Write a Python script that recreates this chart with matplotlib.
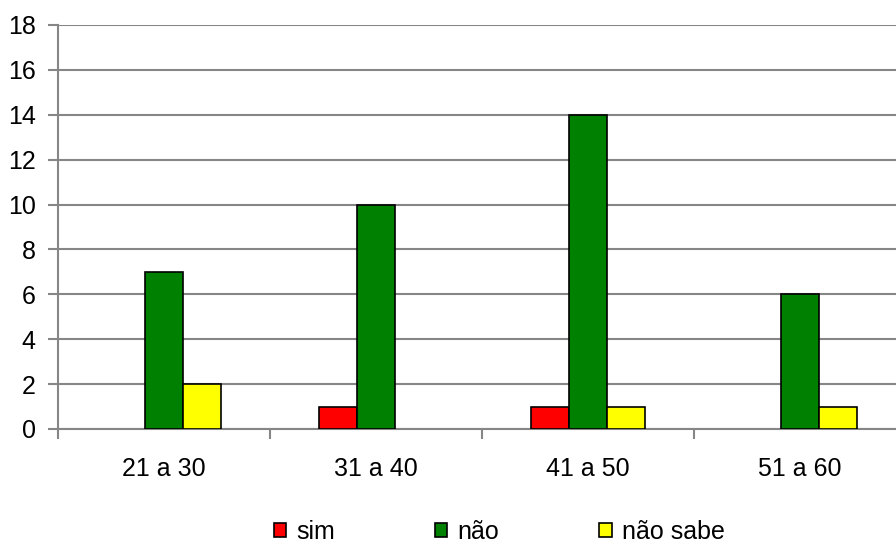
import matplotlib
matplotlib.use("Agg")
import matplotlib.pyplot as plt
import numpy as np

# data
categories = ["21 a 30", "31 a 40", "41 a 50", "51 a 60"]
sim = [0, 1, 1, 0]
nao = [7, 10, 14, 6]
nao_sabe = [2, 0, 1, 1]
series_names = ["sim", "não", "não sabe"]
series_colors = ["#ff0000", "#008000", "#ffff00"]

plt.rcParams["font.family"] = ["Liberation Sans", "DejaVu Sans"]

fig = plt.figure(figsize=(8.96, 5.43), dpi=100)
ax = fig.add_axes([58 / 896, 114 / 543, 848 / 896, 404 / 543])

x = np.arange(len(categories))
w = 0.179
for i, (vals, name, col) in enumerate(zip([sim, nao, nao_sabe], series_names, series_colors)):
    # zero-height bars get no outline (reference shows nothing there)
    lws = [1.2 if v else 0 for v in vals]
    ax.bar(x + (i - 1) * w, vals, width=w, color=col, edgecolor="black",
           linewidth=lws, label=name, zorder=3)

ax.set_xlim(-0.5, len(categories) - 0.5)
ax.set_ylim(0, 18)
ax.set_yticks(range(0, 19, 2))
ax.yaxis.grid(True, color="#868686", linewidth=1.5, zorder=0)

ax.set_xticks(x)
ax.set_xticklabels(categories)
ax.set_xticks(np.arange(-0.5, len(categories), 1), minor=True)
ax.tick_params(axis="x", which="major", length=0, pad=20, labelsize=18)
ax.tick_params(axis="x", which="minor", length=7, width=1.5, color="#868686", direction="out")
ax.tick_params(axis="y", length=7, width=1.5, color="#868686", pad=9, labelsize=18)

for s in ["top", "right"]:
    ax.spines[s].set_visible(False)
for s in ["left", "bottom"]:
    ax.spines[s].set_color("#868686")
    ax.spines[s].set_linewidth(1.5)

leg = fig.legend(loc="center", bbox_to_anchor=(499 / 896, 1 - 532 / 543), ncol=3,
                 frameon=False, fontsize=18, handlelength=0.5, handleheight=0.5,
                 handletextpad=0.4, columnspacing=4.0)
for h in leg.legend_handles:
    h.set_linewidth(1.2)

fig.savefig("out.png", dpi=100)
